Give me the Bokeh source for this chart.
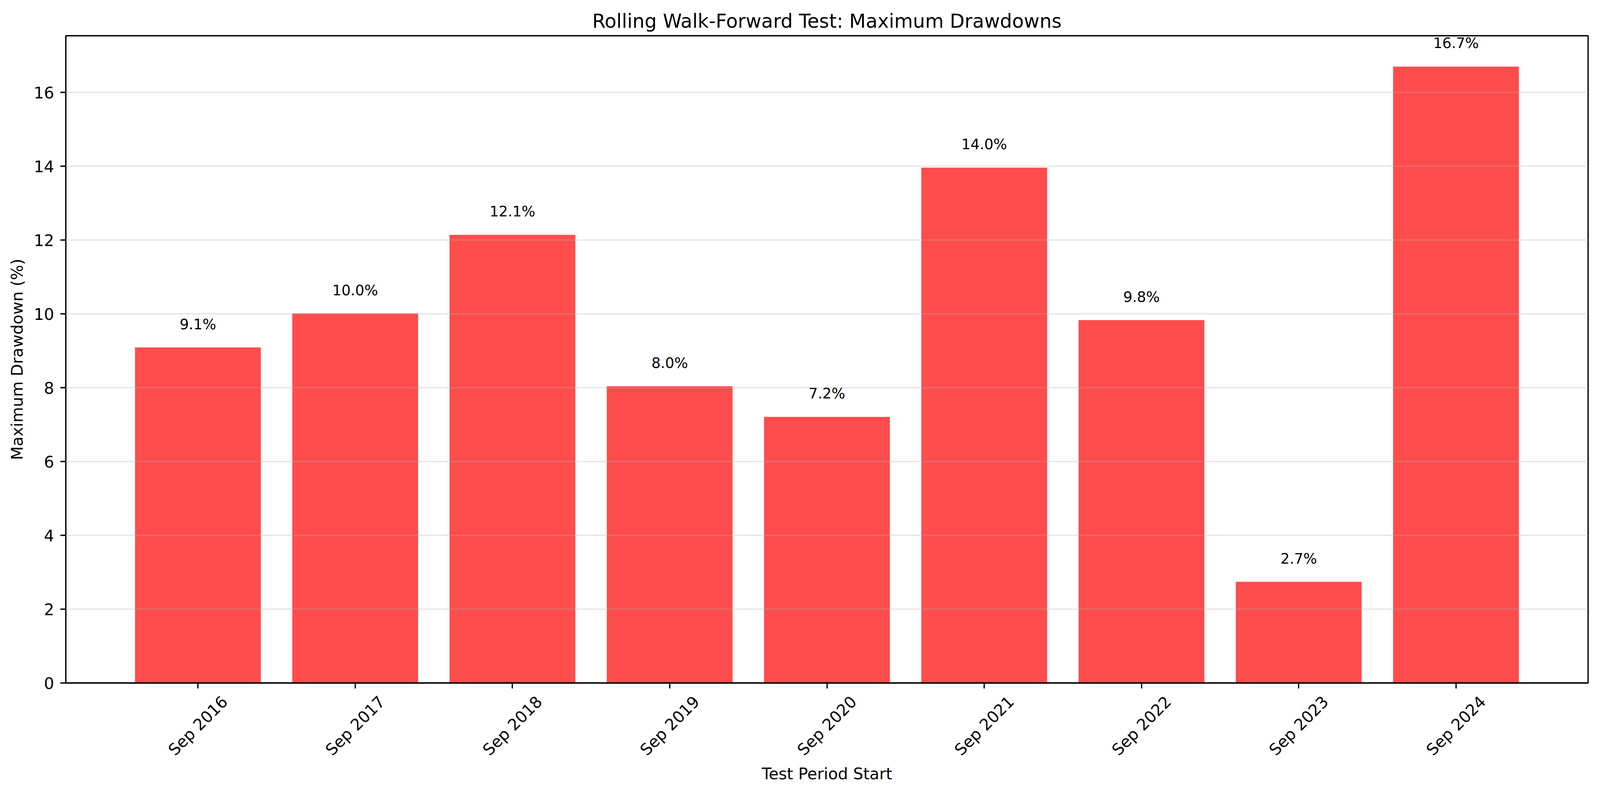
from bokeh.plotting import figure
from bokeh.models import Range1d, FixedTicker, ColumnDataSource, LabelSet, LinearAxis
from bokeh.core.properties import value
from bokeh.embed import file_html
from bokeh.resources import INLINE

# data
periods = ["Sep 2016", "Sep 2017", "Sep 2018", "Sep 2019", "Sep 2020",
           "Sep 2021", "Sep 2022", "Sep 2023", "Sep 2024"]
max_drawdown = [9.09, 10.01, 12.14, 8.04, 7.21, 13.96, 9.83, 2.74, 16.70]
y_ticks = [0, 2, 4, 6, 8, 10, 12, 14, 16]

FONT = "DejaVu Sans"
W, H = 4090, 2028
PT = 300 / 72 * 4096 / 4169  # matplotlib points -> canvas pixels
BAR_WIDTH = 0.8
LABEL_SHIFT = 0.171  # moves the right-aligned rotated labels so they sit centred under the ticks

pos = list(range(len(periods)))
labels = [f"{v:.1f}%" for v in max_drawdown]
src = ColumnDataSource(dict(x=pos, top=max_drawdown, label=labels))

# matplotlib-like 5% margins on x, 5% headroom on y
span = (len(pos) - 1) + BAR_WIDTH
pad = 0.05 * span
x0, x1 = -BAR_WIDTH / 2 - pad, len(pos) - 1 + BAR_WIDTH / 2 + pad
y_range = Range1d(0, max(max_drawdown) * 1.05)

p = figure(width=W, height=H, x_range=Range1d(x0, x1), y_range=y_range,
           title="Rolling Walk-Forward Test: Maximum Drawdowns",
           output_backend="svg", toolbar_location=None,
           min_border_left=168, min_border_right=25,
           min_border_top=91, min_border_bottom=280)
p.extra_x_ranges = {"labels": Range1d(x0 - LABEL_SHIFT, x1 - LABEL_SHIFT)}

p.vbar(x="x", top="top", width=BAR_WIDTH, bottom=0, source=src,
       fill_color="red", fill_alpha=0.7, line_color=None)

# value labels above each bar
p.add_layout(LabelSet(x="x", y="top", text="label", source=src,
                      text_align="center", text_baseline="alphabetic",
                      y_offset=47, text_font=value(FONT),
                      text_font_size=f"{9 * PT:.1f}px", text_color="black"))

# title
p.title.text_font = FONT
p.title.text_font_size = f"{12 * PT:.1f}px"
p.title.text_font_style = "normal"
p.title.text_color = "black"
p.title.align = "center"
p.title.standoff = 17

# second axis below carries the rotated period labels and the x label
label_axis = LinearAxis(x_range_name="labels")
p.add_layout(label_axis, "below")

tick_axis = p.xaxis[0]
for ax in (tick_axis, label_axis, p.yaxis[0]):
    ax.axis_line_width = 0.8 * PT
    ax.axis_line_color = "black"
    ax.major_tick_line_width = 0.8 * PT
    ax.major_tick_line_color = "black"
    ax.major_tick_out = 14
    ax.major_tick_in = 0
    ax.minor_tick_out = 0
    ax.minor_tick_in = 0
    ax.major_label_text_font = FONT
    ax.major_label_text_font_size = f"{10 * PT:.1f}px"
    ax.major_label_text_color = "black"
    ax.axis_label_text_font = FONT
    ax.axis_label_text_font_size = f"{10 * PT:.1f}px"
    ax.axis_label_text_font_style = "normal"
    ax.axis_label_text_color = "black"

tick_axis.ticker = FixedTicker(ticks=pos)
tick_axis.major_label_overrides = {i: "" for i in pos}
tick_axis.major_label_text_font_size = "1px"
tick_axis.major_label_standoff = 0

label_axis.ticker = FixedTicker(ticks=pos)
label_axis.major_label_overrides = {i: periods[i] for i in pos}
label_axis.major_label_orientation = 3.14159265 / 4
label_axis.axis_line_color = None
label_axis.major_tick_out = 0
label_axis.major_label_standoff = 27
label_axis.axis_label = "Test Period Start"
label_axis.axis_label_standoff = -7

p.yaxis.ticker = FixedTicker(ticks=y_ticks)
p.yaxis.major_label_standoff = 16
p.yaxis.axis_label = "Maximum Drawdown (%)"
p.yaxis.axis_label_standoff = 15

# grid: horizontal only, drawn over the bars like matplotlib
p.xgrid.visible = False
p.ygrid.grid_line_color = "#b0b0b0"
p.ygrid.grid_line_alpha = 0.3
p.ygrid.grid_line_width = 0.8 * PT
p.ygrid.level = "guide"

p.outline_line_color = "black"
p.outline_line_width = 0.8 * PT
p.outline_line_alpha = 1.0
p.background_fill_color = "white"
p.border_fill_color = "white"

open("out.html", "w").write(file_html(p, INLINE))
